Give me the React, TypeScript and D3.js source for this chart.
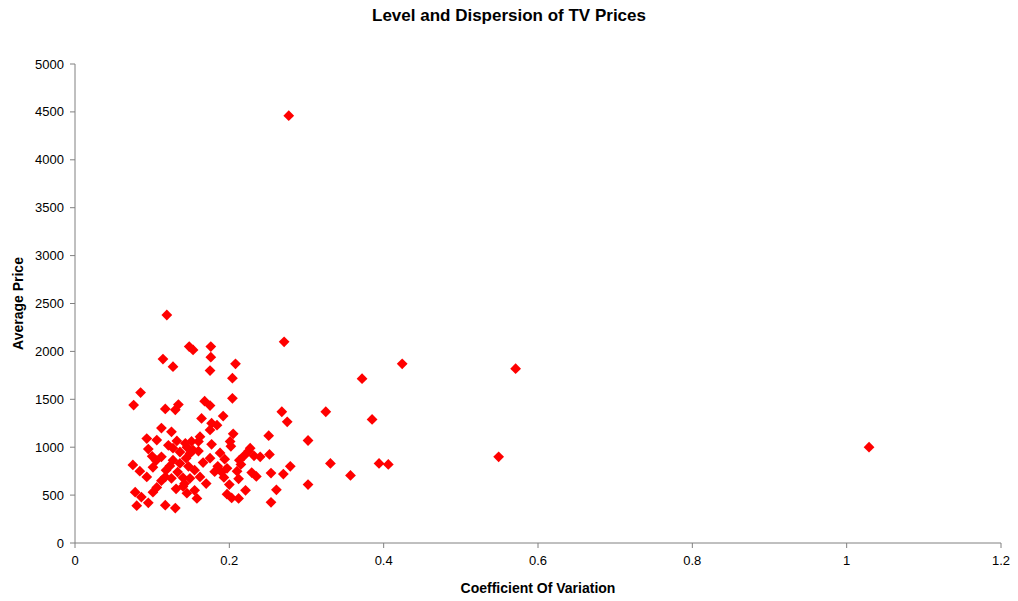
import * as d3 from 'd3';

// coefficient of variation per model
const cov = [
  0.277, 0.119, 0.271, 0.148, 0.153, 0.176, 0.176, 0.114, 0.127, 0.175,
  0.208, 0.204, 0.085, 0.204, 0.424, 0.571, 0.372, 0.076, 0.134, 0.168,
  0.175, 0.117, 0.13, 0.268, 0.325, 0.275, 0.385, 0.164, 0.192, 0.177,
  0.184, 0.175, 0.112, 0.125, 0.162, 0.205, 0.251, 0.302, 0.093, 0.106,
  0.201, 0.177, 0.151, 0.143, 0.227, 0.095, 0.112, 0.127, 0.153, 0.202,
  0.252, 0.232, 0.175, 0.194, 0.213, 0.219, 0.149, 0.1, 0.127, 0.136,
  0.075, 0.084, 0.093, 0.101, 0.117, 0.155, 0.149, 0.162, 0.181, 0.19,
  0.193, 0.21, 0.212, 0.229, 0.235, 0.254, 0.27, 0.279, 0.331, 0.394,
  0.406, 0.357, 0.549, 0.302, 0.261, 0.254, 0.14, 0.078, 0.086, 0.101,
  0.106, 0.08, 0.095, 0.117, 0.13, 0.145, 0.155, 0.158, 0.197, 0.203,
  0.212, 0.221, 0.125, 1.029, 0.133, 0.14, 0.131, 0.121, 0.136, 0.144,
  0.123, 0.132, 0.105, 0.118, 0.142, 0.147, 0.16, 0.166, 0.17, 0.185,
  0.188, 0.197, 0.2, 0.215, 0.145, 0.16, 0.112, 0.225, 0.24,
];

// average price per model, same order as cov
const avgPrice = [
  4460, 2380, 2100, 2050, 2015, 2050, 1940, 1920, 1840, 1800,
  1870, 1720, 1570, 1510, 1870, 1820, 1715, 1440, 1445, 1480,
  1435, 1400, 1390, 1370, 1370, 1265, 1290, 1300, 1325, 1250,
  1230, 1180, 1200, 1160, 1110, 1140, 1120, 1070, 1090, 1075,
  1060, 1030, 1060, 1040, 990, 980, 900, 990, 970, 1010,
  925, 910, 885, 875, 865, 910, 935, 905, 865, 830,
  815, 750, 690, 790, 690, 760, 675, 690, 745, 740,
  685, 750, 670, 735, 695, 730, 720, 800, 830, 830,
  820, 705, 900, 610, 555, 425, 590, 530, 480, 530,
  580, 390, 420, 395, 365, 520, 550, 465, 510, 470,
  465, 550, 675, 1000, 740, 680, 565, 1020, 950, 885,
  805, 1065, 860, 760, 620, 800, 960, 840, 620, 800,
  940, 780, 610, 820, 1000, 1060, 650, 960, 900,
];

const xTicks = [0, 0.2, 0.4, 0.6, 0.8, 1, 1.2];
const yTicks = [0, 500, 1000, 1500, 2000, 2500, 3000, 3500, 4000, 4500, 5000];

const W = 1018;
const H = 601;
const M = { left: 75, right: 1001, top: 64, bottom: 543 };
const FONT = 'Arial, "Liberation Sans", Helvetica, sans-serif';

export default function App() {
  const x = d3.scaleLinear().domain([0, 1.2]).range([M.left, M.right]);
  const y = d3.scaleLinear().domain([0, 5000]).range([M.bottom, M.top]);
  const diamond = d3.symbol().type(d3.symbolSquare).size(58)();

  const pts = cov.map((c, i) => ({ c, p: avgPrice[i] }));

  return (
    <div style={{ position: 'fixed', left: 0, top: 0 }}>
      <svg width={W} height={H} style={{ display: 'block', background: '#fff' }}>
        {/* Title */}
        <text
          x={509}
          y={21}
          textAnchor="middle"
          fontFamily={FONT}
          fontSize={17}
          fontWeight="bold"
        >
          Level and Dispersion of TV Prices
        </text>

        {/* Axes */}
        <line x1={M.left} x2={M.left} y1={M.top} y2={M.bottom} stroke="#808080" />
        <line x1={M.left} x2={M.right} y1={M.bottom} y2={M.bottom} stroke="#808080" />

        {yTicks.map((t) => (
          <g key={t}>
            <line x1={M.left - 5} x2={M.left} y1={y(t)} y2={y(t)} stroke="#808080" />
            <text
              x={M.left - 11}
              y={y(t)}
              dy="0.35em"
              textAnchor="end"
              fontFamily={FONT}
              fontSize={13}
              fill="#000"
            >
              {t}
            </text>
          </g>
        ))}

        {xTicks.map((t) => (
          <g key={t}>
            <line x1={x(t)} x2={x(t)} y1={M.bottom} y2={M.bottom + 5} stroke="#808080" />
            <text
              x={x(t)}
              y={M.bottom + 22}
              textAnchor="middle"
              fontFamily={FONT}
              fontSize={13}
              fill="#000"
            >
              {t}
            </text>
          </g>
        ))}

        {/* Axis titles */}
        <text
          x={(M.left + M.right) / 2}
          y={593}
          textAnchor="middle"
          fontFamily={FONT}
          fontSize={14}
          fontWeight="bold"
        >
          Coefficient Of Variation
        </text>
        <text
          transform={`translate(23, ${(M.top + M.bottom) / 2}) rotate(-90)`}
          textAnchor="middle"
          fontFamily={FONT}
          fontSize={14}
          fontWeight="bold"
        >
          Average Price
        </text>

        {/* Points */}
        {pts.map((d, i) => (
          <path
            key={i}
            d={diamond || ''}
            transform={`translate(${x(d.c)}, ${y(d.p)}) rotate(45)`}
            fill="#FF0000"
          />
        ))}
      </svg>
    </div>
  );
}
